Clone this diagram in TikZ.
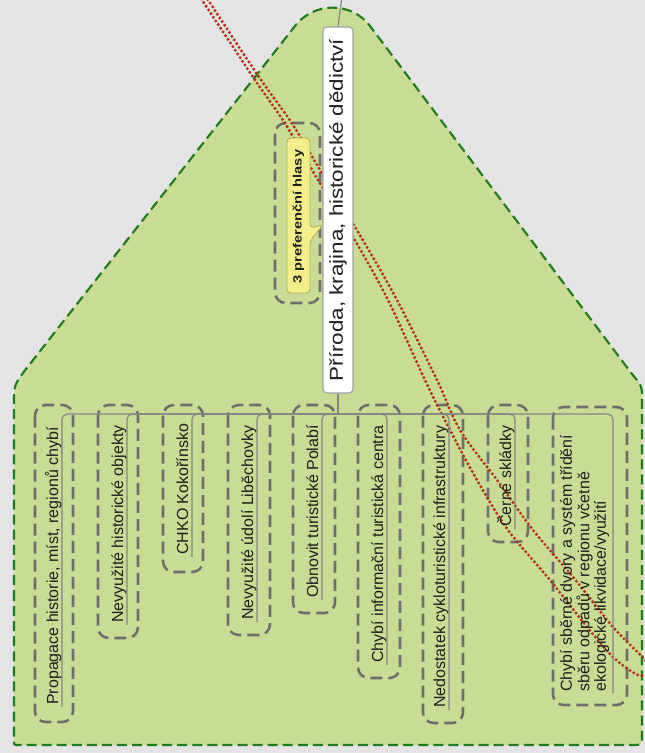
\documentclass[tikz,border=0pt]{standalone}
\usepackage{fontspec}
\setmainfont{Liberation Sans}
\usepackage{graphicx}
\definecolor{bgcol}{HTML}{E4E4E4}
\definecolor{gfill}{HTML}{C8DC96}
\definecolor{gline}{HTML}{1E7C1E}
\definecolor{bgray}{HTML}{6E6E6E}
\definecolor{cgray}{HTML}{858585}
\definecolor{rdot}{HTML}{B8301A}
\definecolor{yfill}{HTML}{F4EE8A}
\definecolor{yline}{HTML}{B5AD55}
\definecolor{mline}{HTML}{A0A0A0}
\definecolor{tcol}{HTML}{1E1E1E}
\begin{document}
\begin{tikzpicture}[x=0.75pt,y=-0.75pt,
  gshape/.style={fill=gfill, draw=gline, line width=1.6pt, dash pattern=on 7.5pt off 3.8pt},
  bound/.style={draw=bgray, line width=1.9pt, dash pattern=on 9pt off 4.5pt, rounded corners=8pt},
  conn/.style={draw=cgray, line width=0.9pt},
  child/.style={rotate=90, anchor=base west, inner sep=0pt, text=tcol, font=\fontsize{12pt}{10.5pt}\selectfont},
  redloop/.style={draw=rdot, line width=2.5pt, line cap=round, dash pattern=on 0pt off 3.3pt},
  mainbox/.style={rotate=90, draw=mline, fill=white, line width=0.8pt, rounded corners=3pt, minimum width=274.5pt, minimum height=22.5pt, inner sep=0pt, text=tcol, font=\fontsize{14pt}{16pt}\selectfont},
  bubble/.style={fill=yfill, draw=yline, line width=0.7pt, rounded corners=3pt},
  preftext/.style={rotate=90, inner sep=0pt, text=tcol, font=\fontsize{9pt}{11pt}\selectfont\bfseries}
]
\useasboundingbox (0,0) rectangle (645,753);
\clip (0,0) rectangle (645,753);
\fill[bgcol] (0,0) rectangle (645,753);

% green house shape
\path[gshape] (14,600) -- (14,405) .. controls (14,385) .. (26,369)
  -- (295,26) .. controls (314,1.5) and (351.5,1.5) .. (370,26)
  -- (632.6,374.8) .. controls (642,386) .. (642,400)
  -- (642,735) .. controls (642,745) .. (632,745)
  -- (18,745) .. controls (14,745) .. (14,741) -- cycle;

% dashed boundaries
\draw[bound] (35,405) rectangle (73,722);
\draw[bound] (98,405) rectangle (138,638);
\draw[bound] (163,405) rectangle (203,572);
\draw[bound] (228,405) rectangle (270,635);
\draw[bound] (293,405) rectangle (335,613);
\draw[bound] (358,405) rectangle (400,678);
\draw[bound] (423,405) rectangle (463,723);
\draw[bound] (488,405) rectangle (528,542);
\draw[bound] (553,407) rectangle (627,705);
\draw[bound] (275,123) rectangle (320,303);

% red dotted loop
\draw[redloop] plot[smooth, tension=0.55] coordinates {
  (194,-12) (202,0) (253,77) (286,125) (318,180) (353,237) (388,300) (425,380)
  (450,430) (477,480) (508,530) (550,580) (587,627) (613,657) (638,675) (650,672)
  (645,660) (613,627) (573,577) (533,530) (497,480) (460,430) (437,380) (397,300)
  (361,237) (326,180) (293,125) (259,77) (208,0) (200,-12)};

% hub and connector ends
\coordinate (top) at (342,-3);
\coordinate (hub) at (338,414);
\coordinate (u1) at (62,707);
\coordinate (u2) at (127,625);
\coordinate (u3) at (192,557);
\coordinate (u4) at (257,622);
\coordinate (u5) at (322,600);
\coordinate (u6) at (387,665);
\coordinate (u7) at (449,710);
\coordinate (u8) at (515,529);
\coordinate (u9) at (613,693);

% main node
\node[mainbox] (main) at (338,210) {\scalebox{1.2}[1]{Příroda, krajina, historické dědictví}};

\draw[conn] (main.east) -- (top);
\draw[conn] (main.west) -- (hub);
\foreach \u in {u1,u2,u3,u4,u5,u6,u7,u8,u9}{
  \draw[conn, rounded corners=4pt] (hub) -| (\u);
}

% children
\node[child] (c1) at (58,705) {Propagace historie, míst, regionů chybí};
\node[child] (c2) at (123,623) {Nevyužité historické objekty};
\node[child] (c3) at (188,555) {CHKO Kokořínsko};
\node[child] (c4) at (253,620) {Nevyužité údolí Liběchovky};
\node[child] (c5) at (318,598) {Obnovit turistické Polabí};
\node[child] (c6) at (383,663) {Chybí informační turistická centra};
\node[child] (c7) at (445,708) {Nedostatek cykloturistické infrastruktury};
\node[child] (c8) at (511,527) {Černé skládky};
\node[child, anchor=south west, align=left] (c9) at (609.5,692)
  {Chybí sběrné dvory a systém třídění\\sběru odpadů v regionu včetně\\ekologické likvidace/využití};

% callout
\path[bubble] (287,138) -- (310,138) -- (310,228) -- (323,225) -- (310,241)
  -- (310,293) -- (287,293) -- cycle;
\node[preftext] (pref) at (298.5,216.5) {\scalebox{1.22}[1]{3 preferenční hlasy}};
\end{tikzpicture}
\end{document}
